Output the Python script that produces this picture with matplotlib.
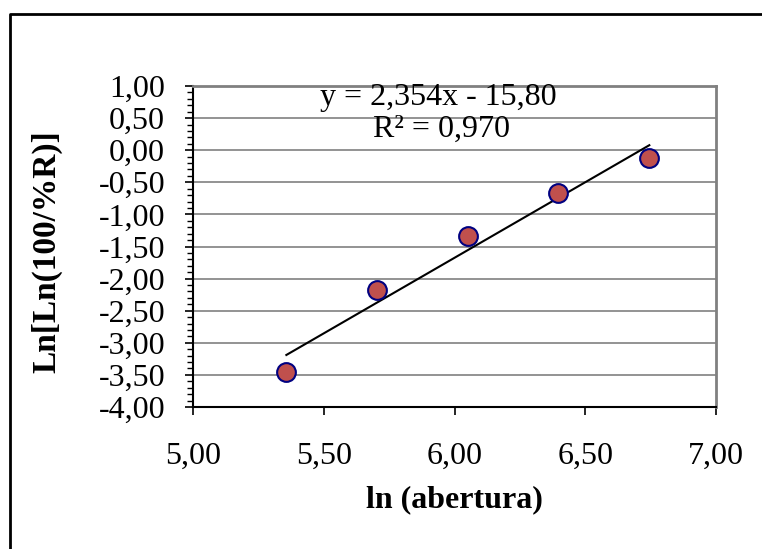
import numpy as np
import matplotlib
matplotlib.use("Agg")
import matplotlib.pyplot as plt
from matplotlib.lines import Line2D
from matplotlib.ticker import MultipleLocator, FuncFormatter

# aberturas (ln) e Ln[Ln(100/%R)]
ln_abertura = [5.357, 5.704, 6.052, 6.397, 6.745]
lnln_r = [-3.46, -2.18, -1.33, -0.66, -0.12]

# linha de tendencia (Excel)
slope = 2.354
intercept = -15.80
eq_label = "y = 2,354x - 15,80"
r2_label = "R² = 0,970"

plt.rcParams['font.family'] = ['Liberation Serif', 'DejaVu Serif']

fig = plt.figure(figsize=(7.62, 5.49), dpi=100)
ax = fig.add_axes([193 / 762, 1 - 407 / 549, (716 - 193) / 762, (407 - 86) / 549])

xs = np.array([min(ln_abertura), max(ln_abertura)])
ax.plot(xs, slope * xs + intercept, color='black', lw=1.5, zorder=3)
ax.plot(ln_abertura, lnln_r, 'o', ms=13.5, mfc='#C0504D', mec='#000080', mew=1.5, zorder=4)

ax.set_xlim(5, 7)
ax.set_ylim(-4, 1)
ax.xaxis.set_major_locator(MultipleLocator(0.5))
ax.yaxis.set_major_locator(MultipleLocator(0.5))
ax.yaxis.set_minor_locator(MultipleLocator(0.1))
fmt = FuncFormatter(lambda v, p: ("%.2f" % v).replace('.', ','))
ax.xaxis.set_major_formatter(fmt)
ax.yaxis.set_major_formatter(fmt)

ax.grid(axis='y', which='major', color='#808080', lw=1.2)
ax.set_axisbelow(True)
for s in ('top', 'right'):
    ax.spines[s].set_color('#808080')
    ax.spines[s].set_linewidth(2)
for s in ('left', 'bottom'):
    ax.spines[s].set_color('black')
    ax.spines[s].set_linewidth(1.5)

ax.tick_params(axis='y', which='major', length=6, width=1.2, labelsize=23, pad=14)
ax.tick_params(axis='y', which='minor', length=4, width=1)
ax.tick_params(axis='x', which='major', length=6, width=1.2, labelsize=23, pad=19)

ax.set_xlabel("ln (abertura)", fontsize=23, fontweight='bold', va='center')
ax.xaxis.set_label_coords(0.5, (407 - 500) / 321)
ax.set_ylabel("Ln[Ln(100/%R)]", fontsize=24, fontweight='bold', va='center')
ax.yaxis.set_label_coords((47 - 193) / 523, (407 - 252) / 321)

ax.text(0.469, (407 - 105) / 321, eq_label, transform=ax.transAxes,
        ha='center', va='baseline', fontsize=23)
ax.text(0.475, (407 - 137) / 321, r2_label, transform=ax.transAxes,
        ha='center', va='baseline', fontsize=23)

# moldura da area do grafico (so topo e esquerda aparecem)
fig.lines.append(Line2D([9.5 / 762, 9.5 / 762, 1.0], [0.0, 1 - 14 / 549, 1 - 14 / 549],
                        transform=fig.transFigure, color='black', lw=2))

fig.savefig("out.png", dpi=100)
